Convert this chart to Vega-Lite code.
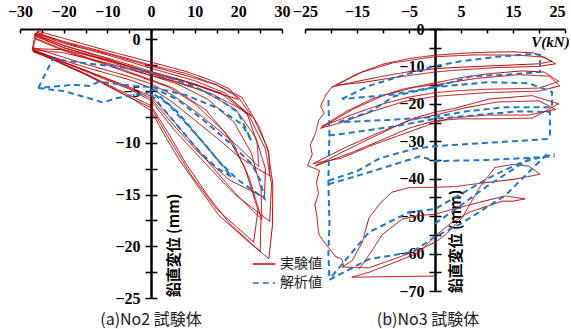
{
  "$schema": "https://vega.github.io/schema/vega-lite/v6.json",
  "background": "white",
  "padding": {"left": 7, "top": 3, "right": 0, "bottom": 4},
  "bounds": "flush",
  "spacing": 23,
  "config": {
    "view": {"stroke": null},
    "axis": {
      "labelFont": "Liberation Sans Narrow", "labelFontWeight": "bold", "labelFontSize": 16, "labelColor": "#000", "labelFlush": false,
      "domainColor": "#000", "domainWidth": 2, "tickColor": "#000", "tickWidth": 1.5, "grid": false, "labelOverlap": false
    }
  },
  "resolve": {"legend": {"color": "independent", "strokeDash": "independent"}},
  "datasets": {
    "pa": [
      {"k":"a1","s":"e","x":-26,"y":0.8},{"k":"a1","s":"e","x":-20,"y":0.1},{"k":"a1","s":"e","x":-10,"y":-1.1},{"k":"a1","s":"e","x":0,"y":-2.2},{"k":"a1","s":"e","x":8,"y":-3.1},{"k":"a1","s":"e","x":14,"y":-4},{"k":"a1","s":"e","x":18,"y":-4.8},{"k":"a1","s":"e","x":20,"y":-5.8},{"k":"a1","s":"e","x":17,"y":-5.4},{"k":"a1","s":"e","x":10,"y":-4.3},{"k":"a1","s":"e","x":0,"y":-3.2},{"k":"a1","s":"e","x":-10,"y":-2},{"k":"a1","s":"e","x":-20,"y":-1},{"k":"a1","s":"e","x":-27,"y":-0.9},{"k":"a1","s":"e","x":-26,"y":0.8},
      {"k":"a2","s":"e","x":-26.5,"y":0.6},{"k":"a2","s":"e","x":-20,"y":-0.2},{"k":"a2","s":"e","x":-10,"y":-1.3},{"k":"a2","s":"e","x":0,"y":-2.5},{"k":"a2","s":"e","x":8,"y":-3.3},{"k":"a2","s":"e","x":15,"y":-4.4},{"k":"a2","s":"e","x":20,"y":-5.6},{"k":"a2","s":"e","x":23,"y":-7.4},{"k":"a2","s":"e","x":20,"y":-6.6},{"k":"a2","s":"e","x":14,"y":-5.3},{"k":"a2","s":"e","x":6,"y":-4.1},{"k":"a2","s":"e","x":0,"y":-3.5},{"k":"a2","s":"e","x":-10,"y":-2.3},{"k":"a2","s":"e","x":-20,"y":-1.3},{"k":"a2","s":"e","x":-27.2,"y":-1},{"k":"a2","s":"e","x":-26.5,"y":0.6},
      {"k":"a3","s":"e","x":-27,"y":-0.8},{"k":"a3","s":"e","x":-15,"y":-2.4},{"k":"a3","s":"e","x":-5,"y":-3.6},{"k":"a3","s":"e","x":0,"y":-4.3},{"k":"a3","s":"e","x":5,"y":-5.4},{"k":"a3","s":"e","x":10,"y":-6.9},{"k":"a3","s":"e","x":15,"y":-8.6},{"k":"a3","s":"e","x":20,"y":-10.4},{"k":"a3","s":"e","x":24.7,"y":-12.3},{"k":"a3","s":"e","x":24.3,"y":-10},{"k":"a3","s":"e","x":22,"y":-7.2},{"k":"a3","s":"e","x":17,"y":-5.2},{"k":"a3","s":"e","x":10,"y":-4},{"k":"a3","s":"e","x":0,"y":-2.8},{"k":"a3","s":"e","x":-10,"y":-1.5},{"k":"a3","s":"e","x":-20,"y":-0.4},{"k":"a3","s":"e","x":-26,"y":0.5},
      {"k":"a4","s":"e","x":-27,"y":-1.1},{"k":"a4","s":"e","x":-15,"y":-2.7},{"k":"a4","s":"e","x":-5,"y":-3.9},{"k":"a4","s":"e","x":0,"y":-4.7},{"k":"a4","s":"e","x":5,"y":-6.1},{"k":"a4","s":"e","x":10,"y":-7.8},{"k":"a4","s":"e","x":15,"y":-9.5},{"k":"a4","s":"e","x":20,"y":-11.3},{"k":"a4","s":"e","x":24,"y":-12.4},{"k":"a4","s":"e","x":27.2,"y":-13.2},{"k":"a4","s":"e","x":27,"y":-11},{"k":"a4","s":"e","x":24.7,"y":-8.4},{"k":"a4","s":"e","x":20.8,"y":-5.6},{"k":"a4","s":"e","x":15,"y":-4.4},{"k":"a4","s":"e","x":8,"y":-3.5},{"k":"a4","s":"e","x":0,"y":-2.6},{"k":"a4","s":"e","x":-10,"y":-1.4},{"k":"a4","s":"e","x":-20,"y":-0.3},{"k":"a4","s":"e","x":-26.2,"y":0.7},
      {"k":"a5","s":"e","x":-27,"y":-1.2},{"k":"a5","s":"e","x":-15,"y":-3},{"k":"a5","s":"e","x":-5,"y":-4.6},{"k":"a5","s":"e","x":0,"y":-5.5},{"k":"a5","s":"e","x":5,"y":-7.8},{"k":"a5","s":"e","x":10,"y":-10.3},{"k":"a5","s":"e","x":15,"y":-12.8},{"k":"a5","s":"e","x":20,"y":-15.2},{"k":"a5","s":"e","x":25.4,"y":-17.4},{"k":"a5","s":"e","x":25.2,"y":-14.5},{"k":"a5","s":"e","x":23,"y":-11},{"k":"a5","s":"e","x":19,"y":-8},{"k":"a5","s":"e","x":13,"y":-5.8},{"k":"a5","s":"e","x":6,"y":-4.3},{"k":"a5","s":"e","x":0,"y":-3.5},{"k":"a5","s":"e","x":-10,"y":-2.1},{"k":"a5","s":"e","x":-20,"y":-0.8},{"k":"a5","s":"e","x":-26.5,"y":0.3},
      {"k":"a6","s":"e","x":-27,"y":-1},{"k":"a6","s":"e","x":-15,"y":-3.1},{"k":"a6","s":"e","x":-5,"y":-4.8},{"k":"a6","s":"e","x":0,"y":-5.9},{"k":"a6","s":"e","x":5,"y":-8.6},{"k":"a6","s":"e","x":12,"y":-11.8},{"k":"a6","s":"e","x":19,"y":-14.9},{"k":"a6","s":"e","x":27.2,"y":-17.6},{"k":"a6","s":"e","x":27.6,"y":-14},{"k":"a6","s":"e","x":26.2,"y":-10.6},{"k":"a6","s":"e","x":22.5,"y":-7.4},{"k":"a6","s":"e","x":16,"y":-5.2},{"k":"a6","s":"e","x":6,"y":-3.8},{"k":"a6","s":"e","x":0,"y":-3.1},{"k":"a6","s":"e","x":-10,"y":-1.8},{"k":"a6","s":"e","x":-20,"y":-0.6},{"k":"a6","s":"e","x":-26.8,"y":0.5},
      {"k":"a7","s":"e","x":-27,"y":-1.1},{"k":"a7","s":"e","x":-15,"y":-3.3},{"k":"a7","s":"e","x":-5,"y":-5.4},{"k":"a7","s":"e","x":0,"y":-6.4},{"k":"a7","s":"e","x":4,"y":-9.1},{"k":"a7","s":"e","x":8,"y":-12},{"k":"a7","s":"e","x":13,"y":-15.1},{"k":"a7","s":"e","x":18,"y":-17.8},{"k":"a7","s":"e","x":25,"y":-20.5},{"k":"a7","s":"e","x":25.2,"y":-17.2},{"k":"a7","s":"e","x":22.5,"y":-13.4},{"k":"a7","s":"e","x":18.5,"y":-9.8},{"k":"a7","s":"e","x":12.5,"y":-6.8},{"k":"a7","s":"e","x":5,"y":-4.7},{"k":"a7","s":"e","x":0,"y":-3.9},{"k":"a7","s":"e","x":-10,"y":-2.4},{"k":"a7","s":"e","x":-20,"y":-1},{"k":"a7","s":"e","x":-26.4,"y":0.1},
      {"k":"a8","s":"e","x":-27.3,"y":-1},{"k":"a8","s":"e","x":-18,"y":-2.8},{"k":"a8","s":"e","x":-11,"y":-4.2},{"k":"a8","s":"e","x":-4,"y":-5.8},{"k":"a8","s":"e","x":0,"y":-6.9},{"k":"a8","s":"e","x":3,"y":-9.2},{"k":"a8","s":"e","x":6.4,"y":-11.6},{"k":"a8","s":"e","x":9.4,"y":-13.4},{"k":"a8","s":"e","x":15.5,"y":-17},{"k":"a8","s":"e","x":22.4,"y":-19.6},{"k":"a8","s":"e","x":27,"y":-21.2},{"k":"a8","s":"e","x":27.8,"y":-18},{"k":"a8","s":"e","x":27.9,"y":-14},{"k":"a8","s":"e","x":26.7,"y":-10.5},{"k":"a8","s":"e","x":23.5,"y":-7.6},{"k":"a8","s":"e","x":17.5,"y":-5.5},{"k":"a8","s":"e","x":8,"y":-4.1},{"k":"a8","s":"e","x":0,"y":-3.3},{"k":"a8","s":"e","x":-10,"y":-2},{"k":"a8","s":"e","x":-20,"y":-0.8},{"k":"a8","s":"e","x":-26.6,"y":0.4},
      {"k":"a9","s":"e","x":-27,"y":-1},{"k":"a9","s":"e","x":-15,"y":-3},{"k":"a9","s":"e","x":-5,"y":-4.7},{"k":"a9","s":"e","x":0,"y":-5.7},{"k":"a9","s":"e","x":5,"y":-8.2},{"k":"a9","s":"e","x":11,"y":-11},{"k":"a9","s":"e","x":18,"y":-13.6},{"k":"a9","s":"e","x":26,"y":-15.3},{"k":"a9","s":"e","x":26.2,"y":-12.5},{"k":"a9","s":"e","x":24,"y":-9.5},{"k":"a9","s":"e","x":19.5,"y":-6.8},{"k":"a9","s":"e","x":12,"y":-5},{"k":"a9","s":"e","x":4,"y":-3.9},{"k":"a9","s":"e","x":0,"y":-3.3},{"k":"a9","s":"e","x":-10,"y":-1.9},{"k":"a9","s":"e","x":-20,"y":-0.6},{"k":"a9","s":"e","x":-26.6,"y":0.5},
      {"k":"a10","s":"e","x":-27.1,"y":-1.1},{"k":"a10","s":"e","x":-15,"y":-3.4},{"k":"a10","s":"e","x":-5,"y":-5.6},{"k":"a10","s":"e","x":0,"y":-6.6},{"k":"a10","s":"e","x":4,"y":-9.5},{"k":"a10","s":"e","x":9,"y":-13},{"k":"a10","s":"e","x":15,"y":-16.4},{"k":"a10","s":"e","x":23.5,"y":-19.6},{"k":"a10","s":"e","x":24.5,"y":-16.5},{"k":"a10","s":"e","x":21.5,"y":-12.4},{"k":"a10","s":"e","x":17,"y":-9},{"k":"a10","s":"e","x":10,"y":-6.2},{"k":"a10","s":"e","x":4,"y":-4.6},{"k":"a10","s":"e","x":0,"y":-4},{"k":"a10","s":"e","x":-10,"y":-2.5},{"k":"a10","s":"e","x":-20,"y":-1.1},{"k":"a10","s":"e","x":-26.3,"y":0},
      {"k":"b1","s":"a","x":-25.8,"y":-4.7},{"k":"b1","s":"a","x":-22.5,"y":-1.9},{"k":"b1","s":"a","x":-15,"y":-2.3},{"k":"b1","s":"a","x":-5,"y":-2.8},{"k":"b1","s":"a","x":0,"y":-3.2},{"k":"b1","s":"a","x":8,"y":-4.2},{"k":"b1","s":"a","x":15,"y":-5.6},{"k":"b1","s":"a","x":20,"y":-7.1},{"k":"b1","s":"a","x":23,"y":-9.8},{"k":"b1","s":"a","x":20.8,"y":-8.2},{"k":"b1","s":"a","x":15,"y":-6.6},{"k":"b1","s":"a","x":8,"y":-5.4},{"k":"b1","s":"a","x":2,"y":-4.8},{"k":"b1","s":"a","x":0,"y":-4.6},{"k":"b1","s":"a","x":-4,"y":-4.5},{"k":"b1","s":"a","x":-8,"y":-4.3},{"k":"b1","s":"a","x":-12,"y":-4.1},{"k":"b1","s":"a","x":-14,"y":-4.5},{"k":"b1","s":"a","x":-18,"y":-4.4},{"k":"b1","s":"a","x":-25.8,"y":-4.7},
      {"k":"b2","s":"a","x":-25.8,"y":-4.7},{"k":"b2","s":"a","x":-20,"y":-5},{"k":"b2","s":"a","x":-15,"y":-5.6},{"k":"b2","s":"a","x":-11,"y":-6.1},{"k":"b2","s":"a","x":-8,"y":-5.7},{"k":"b2","s":"a","x":-4,"y":-5.4},{"k":"b2","s":"a","x":0,"y":-5.1},{"k":"b2","s":"a","x":4,"y":-6.3},{"k":"b2","s":"a","x":8,"y":-8.1},{"k":"b2","s":"a","x":12,"y":-10},{"k":"b2","s":"a","x":16,"y":-12},{"k":"b2","s":"a","x":20,"y":-13.6},{"k":"b2","s":"a","x":26,"y":-15.4},{"k":"b2","s":"a","x":25,"y":-13.6},{"k":"b2","s":"a","x":23,"y":-12},{"k":"b2","s":"a","x":18,"y":-10},{"k":"b2","s":"a","x":12,"y":-7.8},{"k":"b2","s":"a","x":6,"y":-5.8},{"k":"b2","s":"a","x":2,"y":-5},{"k":"b2","s":"a","x":0,"y":-4.9},
      {"k":"b3","s":"a","x":0,"y":-5.3},{"k":"b3","s":"a","x":3,"y":-6.8},{"k":"b3","s":"a","x":7,"y":-8.8},{"k":"b3","s":"a","x":11,"y":-10.8},{"k":"b3","s":"a","x":15,"y":-12.4},{"k":"b3","s":"a","x":18.5,"y":-13.3},{"k":"b3","s":"a","x":14,"y":-11},{"k":"b3","s":"a","x":10,"y":-9},{"k":"b3","s":"a","x":6,"y":-7},{"k":"b3","s":"a","x":2,"y":-5.5}
    ],
    "pb": [
      {"k":"c1","s":"e","x":-19.8,"y":-15.5},{"k":"c1","s":"e","x":-15,"y":-12},{"k":"c1","s":"e","x":-10,"y":-9.4},{"k":"c1","s":"e","x":-5,"y":-7.9},{"k":"c1","s":"e","x":0,"y":-7},{"k":"c1","s":"e","x":5,"y":-6.5},{"k":"c1","s":"e","x":10,"y":-6.2},{"k":"c1","s":"e","x":15,"y":-6.1},{"k":"c1","s":"e","x":19,"y":-6.4},{"k":"c1","s":"e","x":22.5,"y":-8.6},{"k":"c1","s":"e","x":20,"y":-9.3},{"k":"c1","s":"e","x":15,"y":-9.6},{"k":"c1","s":"e","x":10,"y":-9.9},{"k":"c1","s":"e","x":5,"y":-10.2},{"k":"c1","s":"e","x":0,"y":-10.6},{"k":"c1","s":"e","x":-5,"y":-11.4},{"k":"c1","s":"e","x":-10,"y":-12.6},{"k":"c1","s":"e","x":-15,"y":-14},{"k":"c1","s":"e","x":-19.8,"y":-15.5},
      {"k":"c2","s":"e","x":-19,"y":-15},{"k":"c2","s":"e","x":-14,"y":-11.5},{"k":"c2","s":"e","x":-8,"y":-9},{"k":"c2","s":"e","x":0,"y":-7.4},{"k":"c2","s":"e","x":8,"y":-6.9},{"k":"c2","s":"e","x":16,"y":-7},{"k":"c2","s":"e","x":21,"y":-7.5},{"k":"c2","s":"e","x":23.2,"y":-9.3},{"k":"c2","s":"e","x":20,"y":-10},{"k":"c2","s":"e","x":12,"y":-10.3},{"k":"c2","s":"e","x":4,"y":-11},{"k":"c2","s":"e","x":0,"y":-11.5},{"k":"c2","s":"e","x":-8,"y":-13},{"k":"c2","s":"e","x":-14,"y":-14.3},{"k":"c2","s":"e","x":-19,"y":-15},
      {"k":"c3","s":"e","x":-21.7,"y":-26},{"k":"c3","s":"e","x":-17,"y":-22},{"k":"c3","s":"e","x":-12,"y":-18.6},{"k":"c3","s":"e","x":-6,"y":-16},{"k":"c3","s":"e","x":0,"y":-14.4},{"k":"c3","s":"e","x":5,"y":-13},{"k":"c3","s":"e","x":10,"y":-12},{"k":"c3","s":"e","x":16.7,"y":-11.2},{"k":"c3","s":"e","x":21,"y":-11.5},{"k":"c3","s":"e","x":23.8,"y":-14},{"k":"c3","s":"e","x":20,"y":-15.8},{"k":"c3","s":"e","x":10,"y":-16.1},{"k":"c3","s":"e","x":4,"y":-16.5},{"k":"c3","s":"e","x":0,"y":-17},{"k":"c3","s":"e","x":-5,"y":-18.2},{"k":"c3","s":"e","x":-10,"y":-20},{"k":"c3","s":"e","x":-15,"y":-22.4},{"k":"c3","s":"e","x":-21.7,"y":-26},
      {"k":"c4","s":"e","x":-22,"y":-26.5},{"k":"c4","s":"e","x":-16,"y":-21.6},{"k":"c4","s":"e","x":-10,"y":-17.8},{"k":"c4","s":"e","x":-4,"y":-15.6},{"k":"c4","s":"e","x":0,"y":-14.9},{"k":"c4","s":"e","x":8,"y":-13.2},{"k":"c4","s":"e","x":16,"y":-12.2},{"k":"c4","s":"e","x":22,"y":-12.6},{"k":"c4","s":"e","x":24,"y":-15.2},{"k":"c4","s":"e","x":20,"y":-16.6},{"k":"c4","s":"e","x":10,"y":-17},{"k":"c4","s":"e","x":0,"y":-18},{"k":"c4","s":"e","x":-6,"y":-19.4},{"k":"c4","s":"e","x":-12,"y":-22},{"k":"c4","s":"e","x":-18,"y":-25},{"k":"c4","s":"e","x":-22,"y":-26.5},
      {"k":"c5","s":"e","x":-23,"y":-36.6},{"k":"c5","s":"e","x":-18,"y":-33},{"k":"c5","s":"e","x":-12.7,"y":-29.4},{"k":"c5","s":"e","x":-8,"y":-26.3},{"k":"c5","s":"e","x":-4.4,"y":-24},{"k":"c5","s":"e","x":0,"y":-22.2},{"k":"c5","s":"e","x":3.8,"y":-21.2},{"k":"c5","s":"e","x":10.4,"y":-18.7},{"k":"c5","s":"e","x":18.7,"y":-17.8},{"k":"c5","s":"e","x":23.8,"y":-20},{"k":"c5","s":"e","x":18.7,"y":-23.8},{"k":"c5","s":"e","x":10.4,"y":-24},{"k":"c5","s":"e","x":5,"y":-24},{"k":"c5","s":"e","x":0,"y":-24.5},{"k":"c5","s":"e","x":-5,"y":-26.5},{"k":"c5","s":"e","x":-10,"y":-29.5},{"k":"c5","s":"e","x":-16,"y":-33},{"k":"c5","s":"e","x":-23,"y":-36.6},
      {"k":"c6","s":"e","x":-23.5,"y":-36},{"k":"c6","s":"e","x":-17,"y":-31.5},{"k":"c6","s":"e","x":-11,"y":-27.8},{"k":"c6","s":"e","x":-5,"y":-24.5},{"k":"c6","s":"e","x":0,"y":-23},{"k":"c6","s":"e","x":6,"y":-21},{"k":"c6","s":"e","x":12,"y":-19.5},{"k":"c6","s":"e","x":20,"y":-19.2},{"k":"c6","s":"e","x":23.2,"y":-21.5},{"k":"c6","s":"e","x":18,"y":-23},{"k":"c6","s":"e","x":10,"y":-23},{"k":"c6","s":"e","x":3,"y":-23.8},{"k":"c6","s":"e","x":0,"y":-25},{"k":"c6","s":"e","x":-6,"y":-28},{"k":"c6","s":"e","x":-12,"y":-31},{"k":"c6","s":"e","x":-18,"y":-34.5},{"k":"c6","s":"e","x":-23.5,"y":-36},
      {"k":"c7","s":"e","x":-19.8,"y":-15.5},{"k":"c7","s":"e","x":-21,"y":-17.6},{"k":"c7","s":"e","x":-22,"y":-20.6},{"k":"c7","s":"e","x":-21.3,"y":-22.5},{"k":"c7","s":"e","x":-22.4,"y":-24.5},{"k":"c7","s":"e","x":-23,"y":-28},{"k":"c7","s":"e","x":-24,"y":-31},{"k":"c7","s":"e","x":-23.6,"y":-33.5},{"k":"c7","s":"e","x":-24.5,"y":-36.5},{"k":"c7","s":"e","x":-22.2,"y":-37.8},{"k":"c7","s":"e","x":-22.8,"y":-41},{"k":"c7","s":"e","x":-22.4,"y":-44},{"k":"c7","s":"e","x":-23.1,"y":-47},{"k":"c7","s":"e","x":-22.7,"y":-50},{"k":"c7","s":"e","x":-22.5,"y":-53},{"k":"c7","s":"e","x":-22.3,"y":-55},{"k":"c7","s":"e","x":-21,"y":-57.5},{"k":"c7","s":"e","x":-19.2,"y":-60.7},{"k":"c7","s":"e","x":-17.9,"y":-61.5},{"k":"c7","s":"e","x":-17.5,"y":-63.6},
      {"k":"c8","s":"e","x":-17.9,"y":-63.6},{"k":"c8","s":"e","x":-16,"y":-62},{"k":"c8","s":"e","x":-14,"y":-57},{"k":"c8","s":"e","x":-12.7,"y":-50.5},{"k":"c8","s":"e","x":-10.5,"y":-46.5},{"k":"c8","s":"e","x":-8.3,"y":-43.6},{"k":"c8","s":"e","x":-5,"y":-42.4},{"k":"c8","s":"e","x":0,"y":-42.3},{"k":"c8","s":"e","x":3.8,"y":-42.1},{"k":"c8","s":"e","x":10,"y":-41},{"k":"c8","s":"e","x":15,"y":-40.2},{"k":"c8","s":"e","x":20.2,"y":-38.8},{"k":"c8","s":"e","x":18,"y":-36.6},{"k":"c8","s":"e","x":15,"y":-36.2},{"k":"c8","s":"e","x":11.5,"y":-37},{"k":"c8","s":"e","x":8.5,"y":-42.5},{"k":"c8","s":"e","x":5.2,"y":-50.5},{"k":"c8","s":"e","x":2,"y":-55},{"k":"c8","s":"e","x":0,"y":-57},{"k":"c8","s":"e","x":-3,"y":-59},{"k":"c8","s":"e","x":-8,"y":-61.5},{"k":"c8","s":"e","x":-12.7,"y":-63.8},{"k":"c8","s":"e","x":-17.9,"y":-63.6},
      {"k":"c9","s":"e","x":-14.6,"y":-64.2},{"k":"c9","s":"e","x":-12,"y":-59},{"k":"c9","s":"e","x":-10.2,"y":-55},{"k":"c9","s":"e","x":-6.3,"y":-50.8},{"k":"c9","s":"e","x":-3,"y":-49.8},{"k":"c9","s":"e","x":0,"y":-49.5},{"k":"c9","s":"e","x":3.8,"y":-48},{"k":"c9","s":"e","x":8,"y":-46.5},{"k":"c9","s":"e","x":13.5,"y":-44.6},{"k":"c9","s":"e","x":17.3,"y":-45.4},{"k":"c9","s":"e","x":15,"y":-46},{"k":"c9","s":"e","x":12.9,"y":-46},{"k":"c9","s":"e","x":6.5,"y":-49},{"k":"c9","s":"e","x":3,"y":-52},{"k":"c9","s":"e","x":0,"y":-55.3},{"k":"c9","s":"e","x":-3,"y":-59.7},{"k":"c9","s":"e","x":-8,"y":-62.5},{"k":"c9","s":"e","x":-12.7,"y":-65},{"k":"c9","s":"e","x":-16,"y":-66.3},{"k":"c9","s":"e","x":-10,"y":-66.2},{"k":"c9","s":"e","x":0,"y":-66},
      {"k":"d1","s":"a","x":-17.9,"y":-18.7},{"k":"d1","s":"a","x":-12.7,"y":-15.2},{"k":"d1","s":"a","x":-6,"y":-12.3},{"k":"d1","s":"a","x":0,"y":-9.9},{"k":"d1","s":"a","x":5,"y":-8.6},{"k":"d1","s":"a","x":12,"y":-7.4},{"k":"d1","s":"a","x":18.7,"y":-6.7},{"k":"d1","s":"a","x":20.2,"y":-6.9},{"k":"d1","s":"a","x":20.2,"y":-11.5},{"k":"d1","s":"a","x":14,"y":-12.2},{"k":"d1","s":"a","x":7.1,"y":-12.6},{"k":"d1","s":"a","x":0,"y":-15.5},{"k":"d1","s":"a","x":-8,"y":-17.5},{"k":"d1","s":"a","x":-17.9,"y":-18.7},
      {"k":"d2","s":"a","x":-18.5,"y":-24.9},{"k":"d2","s":"a","x":-12.7,"y":-22.2},{"k":"d2","s":"a","x":-7.7,"y":-17.9},{"k":"d2","s":"a","x":0,"y":-15.5},{"k":"d2","s":"a","x":10.4,"y":-14.2},{"k":"d2","s":"a","x":18,"y":-14.5},{"k":"d2","s":"a","x":22.5,"y":-16.8},{"k":"d2","s":"a","x":22.5,"y":-20.9},{"k":"d2","s":"a","x":13.5,"y":-20.9},{"k":"d2","s":"a","x":6,"y":-22},{"k":"d2","s":"a","x":0,"y":-23.5},{"k":"d2","s":"a","x":-9,"y":-24.3},{"k":"d2","s":"a","x":-18.5,"y":-24.9},
      {"k":"d3","s":"a","x":-20.5,"y":-40.5},{"k":"d3","s":"a","x":-15,"y":-38},{"k":"d3","s":"a","x":-10.6,"y":-34.5},{"k":"d3","s":"a","x":-4,"y":-32},{"k":"d3","s":"a","x":0,"y":-31.3},{"k":"d3","s":"a","x":8,"y":-30.6},{"k":"d3","s":"a","x":15,"y":-30},{"k":"d3","s":"a","x":21.5,"y":-29.4},{"k":"d3","s":"a","x":22.1,"y":-28.6},{"k":"d3","s":"a","x":22.1,"y":-22.2},{"k":"d3","s":"a","x":16,"y":-22},{"k":"d3","s":"a","x":8,"y":-23},{"k":"d3","s":"a","x":0,"y":-24},{"k":"d3","s":"a","x":-7.3,"y":-25.9},{"k":"d3","s":"a","x":-15.6,"y":-27.6},{"k":"d3","s":"a","x":-20.5,"y":-28.5},
      {"k":"dl","s":"a","x":-20.5,"y":-19},{"k":"dl","s":"a","x":-20.3,"y":-28},{"k":"dl","s":"a","x":-20.5,"y":-40.5},{"k":"dl","s":"a","x":-20.3,"y":-52},{"k":"dl","s":"a","x":-20.5,"y":-60},{"k":"dl","s":"a","x":-20.3,"y":-67},
      {"k":"d4","s":"a","x":-20.5,"y":-41.5},{"k":"d4","s":"a","x":-12,"y":-38},{"k":"d4","s":"a","x":-2.9,"y":-34},{"k":"d4","s":"a","x":0,"y":-35.3},{"k":"d4","s":"a","x":10,"y":-35},{"k":"d4","s":"a","x":17,"y":-34.5},{"k":"d4","s":"a","x":23,"y":-34},
      {"k":"d5","s":"a","x":0,"y":-52},{"k":"d5","s":"a","x":4.8,"y":-47.3},{"k":"d5","s":"a","x":10,"y":-42},{"k":"d5","s":"a","x":15,"y":-37.5},{"k":"d5","s":"a","x":19,"y":-34},
      {"k":"d6","s":"a","x":-20.3,"y":-67},{"k":"d6","s":"a","x":-12.7,"y":-61.5},{"k":"d6","s":"a","x":-4.4,"y":-59.6},{"k":"d6","s":"a","x":0,"y":-55.5},{"k":"d6","s":"a","x":5,"y":-52},{"k":"d6","s":"a","x":13.5,"y":-44.5},{"k":"d6","s":"a","x":21.9,"y":-32.9},
      {"k":"d7","s":"a","x":-19.8,"y":-66},{"k":"d7","s":"a","x":-12.7,"y":-54.3},{"k":"d7","s":"a","x":-5,"y":-48.9},{"k":"d7","s":"a","x":0,"y":-48.1},{"k":"d7","s":"a","x":11,"y":-39.3},{"k":"d7","s":"a","x":16.7,"y":-35.6},{"k":"d7","s":"a","x":23,"y":-33.4}
    ]
  },
  "hconcat": [
    {
      "width": 262, "height": 269,
      "title": {"text": "(a)No2 試験体", "orient": "bottom", "anchor": "middle", "font": "Noto Sans CJK JP", "fontSize": 16, "fontWeight": "normal", "color": "#222", "offset": 6},
      "data": {"name": "pa"},
      "resolve": {"axis": {"y": "independent"}},
      "layer": [
        {
          "mark": {"type": "line"},
          "encoding": {
            "x": {"field": "x", "type": "quantitative", "scale": {"domain": [-30, 30], "nice": false, "zero": false},
              "axis": {"orient": "top", "title": null, "values": [-30,-25,-20,-15,-10,-5,0,5,10,15,20,25,30], "labelExpr": "datum.value % 10 == 0 ? datum.label : ''", "tickSize": -4, "labelPadding": 14}},
            "y": {"field": "y", "type": "quantitative", "scale": {"domain": [-25, 1], "nice": false, "zero": false},
              "axis": {"orient": "left", "offset": -131, "values": [0,-2.5,-5,-7.5,-10,-12.5,-15,-17.5,-20,-22.5,-25], "labelExpr": "datum.value % 5 == 0 ? datum.label : ''", "tickSize": 6, "labelPadding": 5,
                "title": "鉛直変位 (mm)", "titleFont": "Noto Sans CJK JP", "titleFontWeight": "bold", "titleFontSize": 15, "titleColor": "#000", "titleAngle": 270, "titleAlign": "center", "titleBaseline": "middle", "titleX": 22, "titleY": 216}},
            "color": {"field": "s", "type": "nominal", "scale": {"domain": ["e", "a"], "range": ["#c00000", "#1f78c8"]},
              "legend": {"orient": "none", "legendX": 232, "legendY": 223, "title": null, "symbolType": "stroke", "symbolSize": 500, "symbolStrokeWidth": 1.5, "labelFont": "Noto Sans CJK JP", "labelFontSize": 14, "labelColor": "#222", "rowPadding": -1, "labelExpr": "datum.label == 'e' ? '実験値' : '解析値'"}},
            "strokeDash": {"field": "s", "type": "nominal", "scale": {"domain": ["e", "a"], "range": [[1, 0], [6, 4]]},
              "legend": {"orient": "none", "legendX": 232, "legendY": 223, "title": null, "symbolType": "stroke", "symbolSize": 500, "symbolStrokeWidth": 1.5, "labelFont": "Noto Sans CJK JP", "labelFontSize": 14, "labelColor": "#222", "rowPadding": -1, "labelExpr": "datum.label == 'e' ? '実験値' : '解析値'"}},
            "strokeWidth": {"field": "s", "type": "nominal", "scale": {"domain": ["e", "a"], "range": [1, 2]}, "legend": null},
            "detail": {"field": "k"},
            "order": {"value": null}
          }
        },
        {
          "mark": {"type": "point", "opacity": 0},
          "encoding": {
            "y": {"field": "y", "type": "quantitative",
              "axis": {"orient": "right", "offset": -131, "values": [0,-2.5,-5,-7.5,-10,-12.5,-15,-17.5,-20,-22.5,-25], "labels": false, "title": null, "tickSize": 6}}
          }
        }
      ]
    },
    {
      "width": 260, "height": 262,
      "title": {"text": "(b)No3 試験体", "orient": "bottom", "anchor": "middle", "font": "Noto Sans CJK JP", "fontSize": 16, "fontWeight": "normal", "color": "#222", "offset": 13, "dx": -7},
      "data": {"name": "pb"},
      "resolve": {"axis": {"y": "independent"}},
      "layer": [
        {
          "mark": {"type": "line"},
          "encoding": {
            "x": {"field": "x", "type": "quantitative", "scale": {"domain": [-25, 25], "nice": false, "zero": false},
              "axis": {"orient": "top", "values": [-25,-20,-15,-10,-5,0,5,10,15,20,25], "labelExpr": "datum.value % 10 != 0 ? datum.label : ''", "tickSize": -4, "labelPadding": 14,
                "labelAlign": {"condition": {"test": "datum.value == 25", "value": "right"}, "value": "center"},
                "title": "V(kN)", "titleFont": "Liberation Serif", "titleFontWeight": "bold", "titleFontStyle": "italic", "titleFontSize": 15, "titleColor": "#000", "titleX": 245, "titleY": 12, "titleAlign": "center", "titleBaseline": "middle"}},
            "y": {"field": "y", "type": "quantitative", "scale": {"domain": [-70, 0], "nice": false, "zero": false},
              "axis": {"orient": "left", "offset": -130, "values": [0,-5,-10,-15,-20,-25,-30,-35,-40,-45,-50,-55,-60,-65,-70], "labelExpr": "datum.value % 10 == 0 ? datum.label : ''", "tickSize": 6, "labelPadding": 5,
                "title": "鉛直変位 (mm)", "titleFont": "Noto Sans CJK JP", "titleFontWeight": "bold", "titleFontSize": 15, "titleColor": "#000", "titleAngle": 270, "titleAlign": "center", "titleBaseline": "middle", "titleX": 20, "titleY": 212}},
            "color": {"field": "s", "type": "nominal", "scale": {"domain": ["e", "a"], "range": ["#c00000", "#1f78c8"]}, "legend": null},
            "strokeDash": {"field": "s", "type": "nominal", "scale": {"domain": ["e", "a"], "range": [[1, 0], [6, 4]]}, "legend": null},
            "strokeWidth": {"field": "s", "type": "nominal", "scale": {"domain": ["e", "a"], "range": [1, 2]}, "legend": null},
            "detail": {"field": "k"},
            "order": {"value": null}
          }
        },
        {
          "mark": {"type": "point", "opacity": 0},
          "encoding": {
            "y": {"field": "y", "type": "quantitative",
              "axis": {"orient": "right", "offset": -130, "values": [0,-5,-10,-15,-20,-25,-30,-35,-40,-45,-50,-55,-60,-65,-70], "labels": false, "title": null, "tickSize": 6}}
          }
        }
      ]
    }
  ]
}
